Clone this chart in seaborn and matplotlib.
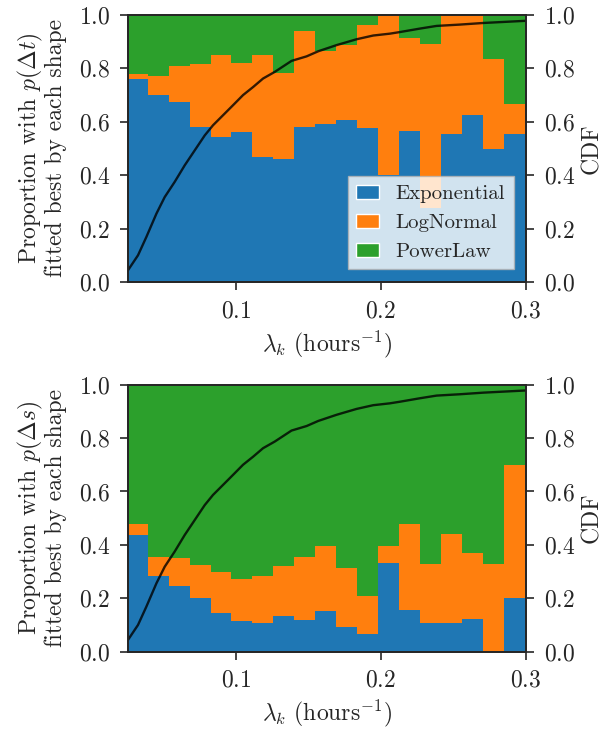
import numpy as np
import matplotlib
matplotlib.use("Agg")
import matplotlib.pyplot as plt
from matplotlib.patches import Patch
import seaborn as sns

# Bin edges in lambda_k (hours^-1)
lam_edges = [0.0257, 0.0393, 0.0537, 0.0682, 0.0826, 0.0970, 0.1115, 0.1259,
             0.1404, 0.1548, 0.1693, 0.1837, 0.1981, 0.2126, 0.2270, 0.2415,
             0.2559, 0.2704, 0.2848, 0.3000]

shapes = ["Exponential", "LogNormal", "PowerLaw"]

# Proportion of p(Delta t) fits won by each shape, per bin
dt_exponential = [0.759, 0.699, 0.673, 0.579, 0.542, 0.563, 0.468, 0.459, 0.579, 0.590,
                  0.605, 0.577, 0.401, 0.564, 0.278, 0.553, 0.624, 0.497, 0.556]
dt_lognormal = [0.019, 0.071, 0.135, 0.236, 0.307, 0.257, 0.381, 0.324, 0.360, 0.274,
                0.284, 0.384, 0.599, 0.350, 0.613, 0.447, 0.376, 0.337, 0.111]
dt_powerlaw = [0.222, 0.230, 0.192, 0.185, 0.151, 0.180, 0.151, 0.217, 0.061, 0.136,
               0.111, 0.039, 0.000, 0.086, 0.109, 0.000, 0.000, 0.166, 0.333]

# Proportion of p(Delta s) fits won by each shape, per bin
ds_exponential = [0.437, 0.283, 0.246, 0.201, 0.145, 0.115, 0.107, 0.134, 0.120, 0.152,
                  0.092, 0.066, 0.332, 0.156, 0.107, 0.107, 0.122, 0.000, 0.200]
ds_lognormal = [0.041, 0.072, 0.105, 0.124, 0.153, 0.157, 0.176, 0.187, 0.235, 0.244,
                0.221, 0.142, 0.064, 0.322, 0.221, 0.334, 0.248, 0.328, 0.500]
ds_powerlaw = [0.522, 0.645, 0.649, 0.675, 0.702, 0.728, 0.717, 0.679, 0.645, 0.604,
               0.687, 0.792, 0.604, 0.522, 0.672, 0.559, 0.630, 0.672, 0.300]

# Cumulative distribution of lambda_k
cdf_lam = [0.0257, 0.0326, 0.0384, 0.0453, 0.0510, 0.0579, 0.0648, 0.0717, 0.0786,
           0.0843, 0.0924, 0.0990, 0.1050, 0.1119, 0.1188, 0.1269, 0.1384, 0.1488,
           0.1568, 0.1694, 0.1832, 0.1947, 0.2062, 0.2131, 0.2269, 0.2384, 0.2545,
           0.2706, 0.2850, 0.2993]
cdf_val = [0.044, 0.100, 0.169, 0.256, 0.318, 0.375, 0.437, 0.493, 0.549,
           0.587, 0.631, 0.667, 0.700, 0.730, 0.762, 0.787, 0.828, 0.845,
           0.864, 0.887, 0.909, 0.923, 0.930, 0.936, 0.949, 0.959, 0.964,
           0.970, 0.974, 0.978]

sns.set_style("ticks")
plt.rcParams["font.family"] = ["cmr10", "DejaVu Serif"]
plt.rcParams["mathtext.fontset"] = "cm"
plt.rcParams["axes.formatter.use_mathtext"] = True
plt.rcParams["axes.unicode_minus"] = False

FS = 17
colors = ["#1f77b4", "#ff7f0e", "#2ca02c"]

fig = plt.figure(figsize=(6.15, 7.3), dpi=100)
ax_top = fig.add_axes([0.2081, 0.6137, 0.6472, 0.3658])
ax_bot = fig.add_axes([0.2081, 0.1073, 0.6472, 0.3658])


def draw_panel(ax, series, ylab):
    x = np.asarray(lam_edges)
    ys = [np.append(s, s[-1]) for s in series]
    ax.stackplot(x, *ys, step="post", colors=colors, labels=shapes, linewidth=0)
    ax.set_xlim(lam_edges[0], lam_edges[-1])
    ax.set_ylim(0, 1)
    ax.set_xticks([0.1, 0.2, 0.3])
    ax.set_yticks(np.linspace(0, 1, 6))
    ax.set_xlabel(r"$\lambda_k$ (hours$^{-1}$)", fontsize=FS, labelpad=4.5)
    ax.set_ylabel(ylab, fontsize=FS, linespacing=1.0, labelpad=8)
    ax.tick_params(labelsize=FS, length=6, width=1.2, direction="out", pad=7)
    for sp in ax.spines.values():
        sp.set_linewidth(1.3)

    ax2 = ax.twinx()
    sns.lineplot(x=cdf_lam, y=cdf_val, ax=ax2, color="k", alpha=0.8, linewidth=1.7)
    ax2.set_ylim(0, 1)
    ax2.set_yticks(np.linspace(0, 1, 6))
    ax2.set_ylabel("CDF", fontsize=FS, labelpad=4)
    ax2.tick_params(labelsize=FS, length=6, width=1.2, direction="out", pad=7)
    for sp in ax2.spines.values():
        sp.set_linewidth(1.3)
    return ax2


draw_panel(ax_top, [dt_exponential, dt_lognormal, dt_powerlaw],
           "Proportion with $p(\\Delta t)$\nfitted best by each shape")
draw_panel(ax_bot, [ds_exponential, ds_lognormal, ds_powerlaw],
           "Proportion with $p(\\Delta s)$\nfitted best by each shape")

handles = [Patch(facecolor=c, label=s) for c, s in zip(colors, shapes)]
ax_top.legend(handles=handles, loc="lower right", fontsize=15,
              handlelength=1.1, framealpha=0.8, fancybox=False,
              edgecolor="0.7", borderaxespad=0.6)

fig.savefig("out.png", dpi=100)
